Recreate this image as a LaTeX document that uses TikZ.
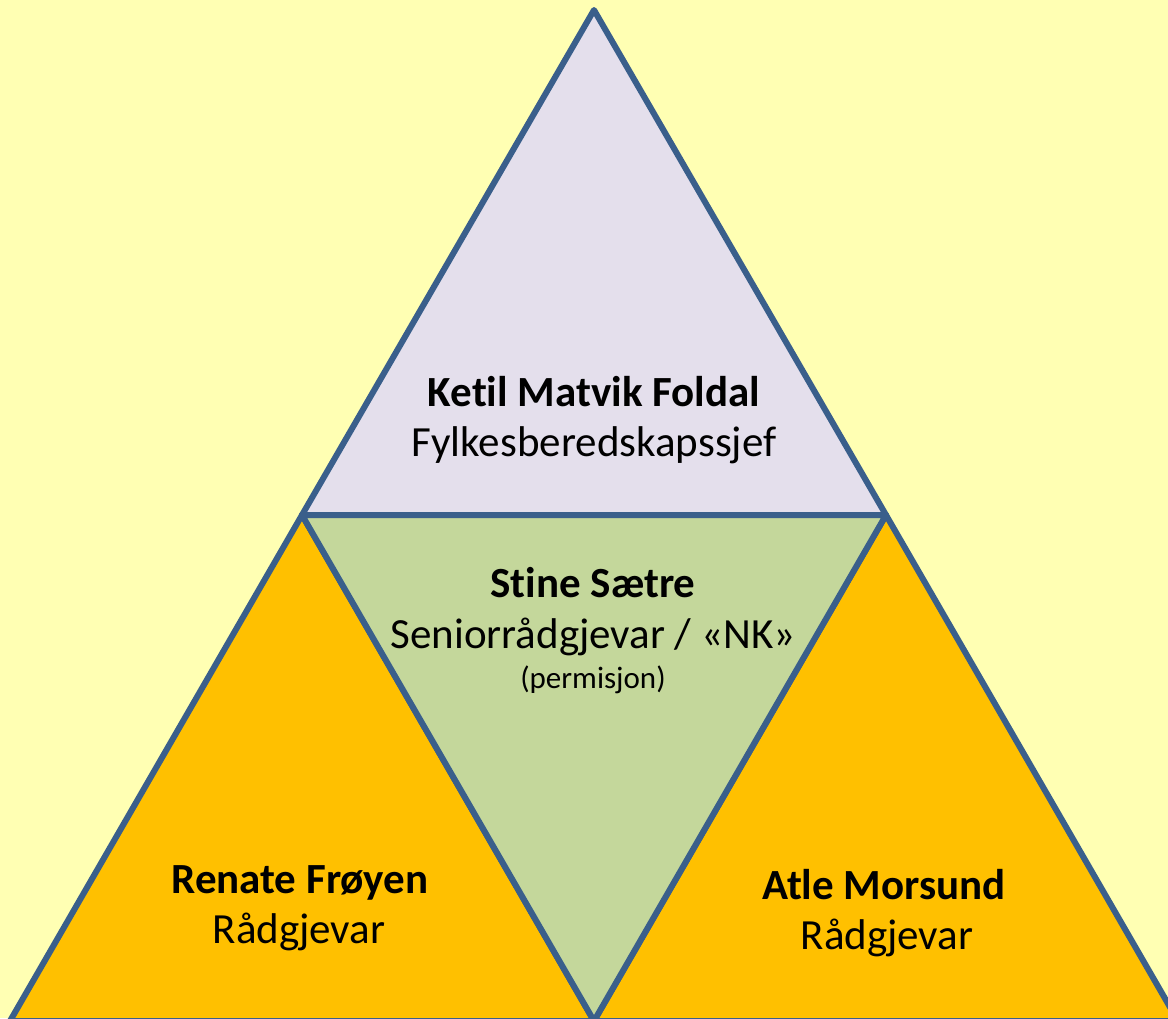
\documentclass[tikz,border=0pt]{standalone}
\usepackage{fontspec}
\setmainfont{Carlito}[Ligatures=NoCommon]
\definecolor{bgyellow}{HTML}{FFFFB3}
\definecolor{lav}{HTML}{E4DFEC}
\definecolor{sage}{HTML}{C4D79B}
\definecolor{gold}{HTML}{FFC000}
\definecolor{edge}{HTML}{3A5F8B}
\tikzset{
  tri/.style={draw=edge, line width=6pt, line join=round},
  personlbl/.style={anchor=base, font=\fontsize{43}{50}\selectfont\bfseries, inner sep=0pt},
  rolelbl/.style={anchor=base, font=\fontsize{43}{50}\selectfont, inner sep=0pt},
  notelbl/.style={anchor=base, font=\fontsize{31}{36}\selectfont, inner sep=0pt}
}
\begin{document}
\begin{tikzpicture}[x=1pt,y=-1pt]
\useasboundingbox (0,0) rectangle (1168,1018);
\clip (0,0) rectangle (1168,1018);
\fill[bgyellow] (0,0) rectangle (1168,1018);
\coordinate (A) at (594,10);
\coordinate (L) at (302,515);
\coordinate (R) at (886,515);
\coordinate (B) at (594,1021);
\coordinate (BL) at (10,1021);
\coordinate (BR) at (1178,1021);
\draw[tri, fill=lav] (A) -- (L) -- (R) -- cycle;
\draw[tri, fill=gold] (L) -- (BL) -- (B) -- cycle;
\draw[tri, fill=gold] (R) -- (B) -- (BR) -- cycle;
\draw[tri, fill=sage] (L) -- (R) -- (B) -- cycle;
\node[personlbl] (ketil) at (594,406) {Ketil Matvik Foldal};
\node[rolelbl] (ketilr) at (594,456) {Fylkesberedskapssjef};
\node[personlbl] (stine) at (593,597) {Stine Sætre};
\node[rolelbl] (stiner) at (593,648) {Seniorrådgjevar / «NK»};
\node[notelbl] (stinen) at (593,688) {(permisjon)};
\node[personlbl] (renate) at (300,893) {Renate Frøyen};
\node[rolelbl] (renater) at (299,943) {Rådgjevar};
\node[personlbl] (atle) at (884,899) {Atle Morsund};
\node[rolelbl] (atler) at (887,949) {Rådgjevar};
\end{tikzpicture}
\end{document}
